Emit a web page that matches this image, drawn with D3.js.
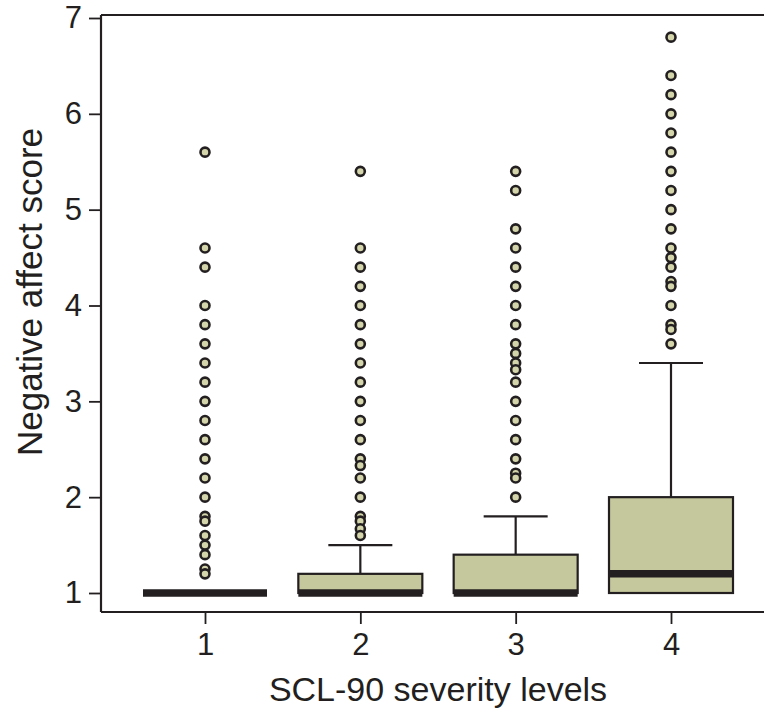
<!DOCTYPE html>
<html>
<head>
<meta charset="utf-8">
<script src="https://cdn.jsdelivr.net/npm/d3@7"></script>
<style>
  html, body { margin: 0; padding: 0; background: #fff; }
  svg text { font-family: "Liberation Sans", Arial, Helvetica, sans-serif; fill: #231f20; }
</style>
</head>
<body>
<svg id="chart" width="764" height="711"></svg>
<script>
// ---- data ----
const categories = ["1", "2", "3", "4"];
const q1 = [1, 1, 1, 1];
const medians = [1, 1, 1, 1.2];
const q3 = [1, 1.2, 1.4, 2.0];
const whiskerLow = [1, 1, 1, 1];
const whiskerHigh = [1, 1.5, 1.8, 3.4];
const outliers1 = [5.6, 4.6, 4.4, 4.0, 3.8, 3.6, 3.4, 3.2, 3.0, 2.8, 2.6, 2.4, 2.2, 2.0, 1.8, 1.75, 1.6, 1.5, 1.4, 1.25, 1.2];
const outliers2 = [5.4, 4.6, 4.4, 4.2, 4.0, 3.8, 3.6, 3.4, 3.2, 3.0, 2.8, 2.6, 2.4, 2.33, 2.2, 2.0, 1.8, 1.75, 1.67, 1.6];
const outliers3 = [5.4, 5.2, 4.8, 4.6, 4.4, 4.2, 4.0, 3.8, 3.6, 3.5, 3.4, 3.33, 3.2, 3.0, 2.8, 2.6, 2.4, 2.25, 2.2, 2.0];
const outliers4 = [6.8, 6.4, 6.2, 6.0, 5.8, 5.6, 5.4, 5.2, 5.0, 4.8, 4.6, 4.5, 4.4, 4.25, 4.2, 4.0, 3.8, 3.75, 3.6];
const outliers = [outliers1, outliers2, outliers3, outliers4];
const yTicks = [1, 2, 3, 4, 5, 6, 7];
const xTitle = "SCL-90 severity levels";
const yTitle = "Negative affect score";

// ---- layout ----
const frame = { left: 101, right: 764, top: 15, bottom: 612 };
const boxHalf = 62, capHalf = 32;
const ink = "#231f20", boxFill = "#c5c79c", dotFill = "#d4d5aa";

const svg = d3.select("#chart");
const y = d3.scaleLinear().domain([1, 7]).range([593, 18]);
const x = d3.scalePoint().domain(categories).range([205, 671]);

// top frame line
svg.append("line").attr("x1", frame.left).attr("x2", frame.right)
  .attr("y1", frame.top).attr("y2", frame.top)
  .attr("stroke", ink).attr("stroke-width", 2);

// y axis
const gy = svg.append("g").attr("transform", `translate(${frame.left},0)`)
  .call(d3.axisLeft(y).tickValues(yTicks).tickFormat(d3.format("d")).tickSize(12).tickPadding(7));
gy.select(".domain").remove();
gy.selectAll(".tick line").attr("stroke", ink).attr("stroke-width", 1.8);
gy.selectAll(".tick text").style("font-size", "31px").attr("fill", ink);
svg.append("line").attr("x1", frame.left).attr("x2", frame.left)
  .attr("y1", frame.top).attr("y2", frame.bottom)
  .attr("stroke", ink).attr("stroke-width", 2.2);

// x axis
const gx = svg.append("g").attr("transform", `translate(0,${frame.bottom})`)
  .call(d3.axisBottom(x).tickSize(12).tickPadding(9));
gx.select(".domain").remove();
gx.selectAll(".tick line").attr("stroke", ink).attr("stroke-width", 1.8);
gx.selectAll(".tick text").style("font-size", "31px").attr("fill", ink);
svg.append("line").attr("x1", frame.left).attr("x2", frame.right)
  .attr("y1", frame.bottom).attr("y2", frame.bottom)
  .attr("stroke", ink).attr("stroke-width", 2.2);

// titles
svg.append("text").attr("x", 438).attr("y", 701)
  .attr("text-anchor", "middle").style("font-size", "34px").text(xTitle);
svg.append("text").attr("transform", `translate(42,${292}) rotate(-90)`)
  .attr("text-anchor", "middle").style("font-size", "35px").text(yTitle);

// boxes
const stats = categories.map((c, i) => ({
  c, q1: q1[i], med: medians[i], q3: q3[i], lo: whiskerLow[i], hi: whiskerHigh[i], out: outliers[i]
}));

const g = svg.append("g");
stats.forEach(s => {
  const cx = x(s.c);
  if (s.hi > s.q3) {
    g.append("line").attr("x1", cx).attr("x2", cx).attr("y1", y(s.q3)).attr("y2", y(s.hi))
      .attr("stroke", ink).attr("stroke-width", 2.2);
    g.append("line").attr("x1", cx - capHalf).attr("x2", cx + capHalf).attr("y1", y(s.hi)).attr("y2", y(s.hi))
      .attr("stroke", ink).attr("stroke-width", 2.2);
  }
  if (s.lo < s.q1) {
    g.append("line").attr("x1", cx).attr("x2", cx).attr("y1", y(s.q1)).attr("y2", y(s.lo))
      .attr("stroke", ink).attr("stroke-width", 2.2);
    g.append("line").attr("x1", cx - capHalf).attr("x2", cx + capHalf).attr("y1", y(s.lo)).attr("y2", y(s.lo))
      .attr("stroke", ink).attr("stroke-width", 2.2);
  }
  if (s.q3 > s.q1) {
    g.append("rect").attr("x", cx - boxHalf).attr("width", boxHalf * 2)
      .attr("y", y(s.q3)).attr("height", y(s.q1) - y(s.q3))
      .attr("fill", boxFill).attr("stroke", ink).attr("stroke-width", 2.2);
  }
  g.append("line").attr("x1", cx - boxHalf).attr("x2", cx + boxHalf)
    .attr("y1", y(s.med)).attr("y2", y(s.med))
    .attr("stroke", ink).attr("stroke-width", 7.5);
  g.selectAll(null).data(s.out).enter().append("circle")
    .attr("cx", cx).attr("cy", d => y(d)).attr("r", 4.5)
    .attr("fill", dotFill).attr("stroke", ink).attr("stroke-width", 2.6);
});
</script>
</body>
</html>
